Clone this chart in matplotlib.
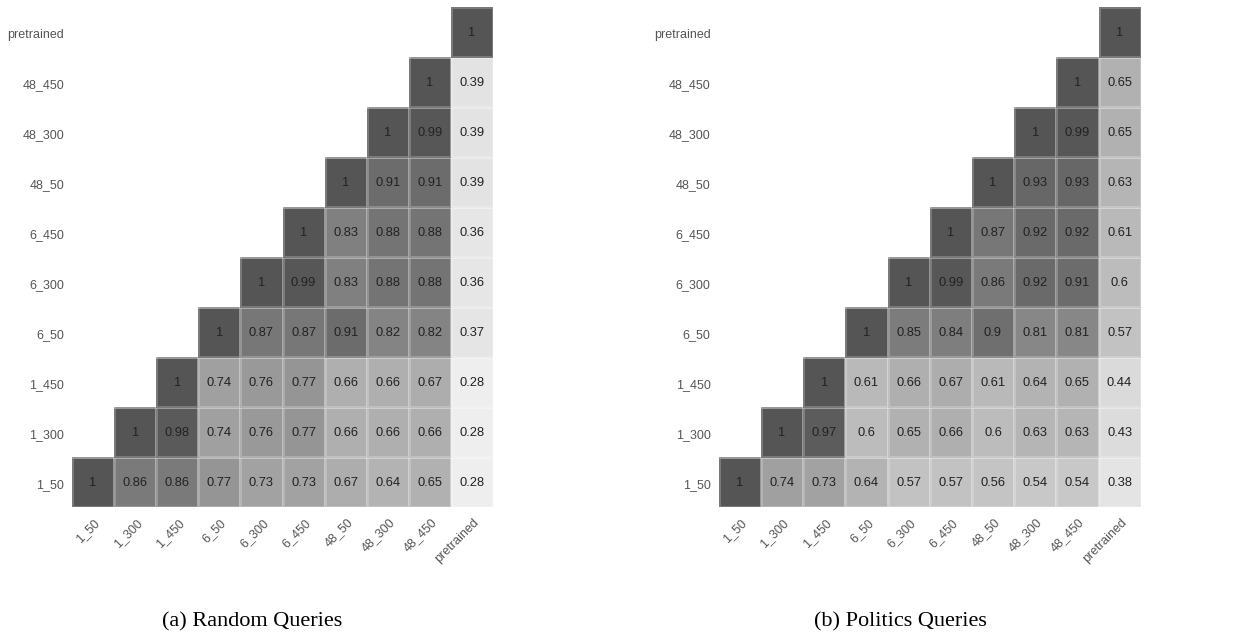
import numpy as np
import matplotlib
matplotlib.use("Agg")
import matplotlib.pyplot as plt
from matplotlib.colors import LinearSegmentedColormap, Normalize
from matplotlib.transforms import ScaledTranslation

labels = ["1_50", "1_300", "1_450", "6_50", "6_300", "6_450",
          "48_50", "48_300", "48_450", "pretrained"]

# rows listed from bottom (1_50) to top (pretrained); each row starts at the diagonal
random_rows = [
    [1, 0.86, 0.86, 0.77, 0.73, 0.73, 0.67, 0.64, 0.65, 0.28],
    [1, 0.98, 0.74, 0.76, 0.77, 0.66, 0.66, 0.66, 0.28],
    [1, 0.74, 0.76, 0.77, 0.66, 0.66, 0.67, 0.28],
    [1, 0.87, 0.87, 0.91, 0.82, 0.82, 0.37],
    [1, 0.99, 0.83, 0.88, 0.88, 0.36],
    [1, 0.83, 0.88, 0.88, 0.36],
    [1, 0.91, 0.91, 0.39],
    [1, 0.99, 0.39],
    [1, 0.39],
    [1],
]
politics_rows = [
    [1, 0.74, 0.73, 0.64, 0.57, 0.57, 0.56, 0.54, 0.54, 0.38],
    [1, 0.97, 0.6, 0.65, 0.66, 0.6, 0.63, 0.63, 0.43],
    [1, 0.61, 0.66, 0.67, 0.61, 0.64, 0.65, 0.44],
    [1, 0.85, 0.84, 0.9, 0.81, 0.81, 0.57],
    [1, 0.99, 0.86, 0.92, 0.91, 0.6],
    [1, 0.87, 0.92, 0.92, 0.61],
    [1, 0.93, 0.93, 0.63],
    [1, 0.99, 0.65],
    [1, 0.65],
    [1],
]
captions = ["(a) Random Queries", "(b) Politics Queries"]

# grey ramp
vmin, vmax = 0.28, 1.0
anchors = [(0.28, 238), (0.39, 227), (0.54, 200), (0.67, 173),
           (0.74, 160), (0.83, 128), (0.86, 122), (1.0, 85)]
cmap = LinearSegmentedColormap.from_list(
    "greyramp",
    [((v - vmin) / (vmax - vmin), (g / 255, g / 255, g / 255)) for v, g in anchors])
norm = Normalize(vmin=vmin, vmax=vmax)


def to_matrix(rows):
    n = len(rows)
    m = np.full((n, n), np.nan)
    for r, vals in enumerate(rows):
        for k, v in enumerate(vals):
            m[r, r + k] = v
    return np.ma.masked_invalid(m)


def fmt(v):
    return f"{v:.2f}".rstrip("0").rstrip(".")


W, H = 1239, 639
fig = plt.figure(figsize=(W / 100, H / 100), dpi=100)
plt.rcParams["font.family"] = ["Liberation Sans", "DejaVu Sans"]

axes_px = [(72, 7, 421, 500), (718.7, 7, 422, 500)]
caption_x = [252, 900]

for (x0, y0, w, h), rows, cap, cx in zip(axes_px, [random_rows, politics_rows], captions, caption_x):
    ax = fig.add_axes([x0 / W, 1 - (y0 + h) / H, w / W, h / H])
    m = to_matrix(rows)
    n = len(labels)
    ax.pcolormesh(np.arange(n + 1), np.arange(n + 1), m, cmap=cmap, norm=norm,
                  edgecolors=(1, 1, 1, 0.22), linewidth=1.0)
    for r in range(n):
        for c in range(n):
            if not np.ma.is_masked(m[r, c]):
                ax.text(c + 0.5, r + 0.5, fmt(float(m[r, c])), ha="center",
                        va="center_baseline", fontsize=9.3, color="#222222")
    ax.set_xlim(0, n)
    ax.set_ylim(0, n)
    ax.set_xticks(np.arange(n) + 0.5)
    ax.set_yticks(np.arange(n) + 0.5)
    ax.set_xticklabels(labels, rotation=45, ha="right", va="center",
                       rotation_mode="anchor", fontsize=9, color="#555555")
    ax.set_yticklabels(labels, fontsize=9, color="#555555")
    ax.tick_params(axis="y", length=0, pad=5.8)
    ax.tick_params(axis="x", length=0, pad=12)
    off = ScaledTranslation(5 / 100, 3 / 100, fig.dpi_scale_trans)
    for lab in ax.get_xticklabels():
        lab.set_transform(lab.get_transform() + off)
    offy = ScaledTranslation(0, -1.5 / 100, fig.dpi_scale_trans)
    for lab in ax.get_yticklabels():
        lab.set_transform(lab.get_transform() + offy)
    for s in ax.spines.values():
        s.set_visible(False)
    fig.text(cx / W, 1 - 622 / H, cap, ha="center", va="center", fontsize=16,
             family=["Liberation Serif", "DejaVu Serif"], color="black")

fig.savefig("out.png", dpi=100)
